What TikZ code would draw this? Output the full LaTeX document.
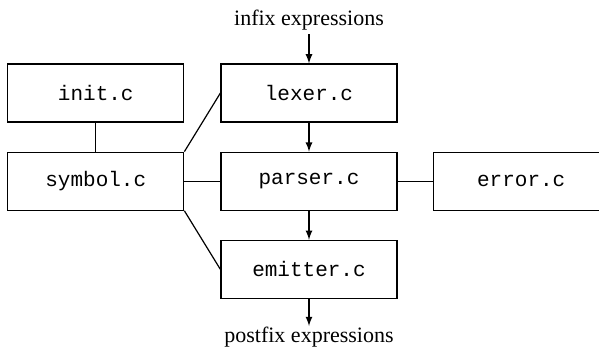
\documentclass[tikz,border=0pt]{standalone}
\usepackage{fontspec}
\setmainfont{Liberation Serif}
\setmonofont{Liberation Mono}
\usepackage{tikz}
\usetikzlibrary{positioning}
\usetikzlibrary{calc}
\tikzset{
  srcfile/.style={draw,line width=0.6pt,minimum width=88pt,minimum height=29pt,
    inner sep=0pt,font=\fontsize{10.5}{12}\selectfont\ttfamily},
  stream/.style={inner sep=2pt,font=\fontsize{11}{13}\selectfont},
  link/.style={line width=0.6pt},
}
\begin{document}
\begin{tikzpicture}
\useasboundingbox (0,0) rectangle (299.5pt,-174.5pt);
\clip (0,0) rectangle (299.5pt,-174.5pt);
% middle column
\node[srcfile] (lexer) at (154.5pt,-46.5pt) {lexer.c};
\node[srcfile,below=14.5pt of lexer] (parser) {parser.c};
\node[srcfile,below=14.5pt of parser] (emitter) {emitter.c};
% side boxes
\node[srcfile,left=18pt of lexer] (init) {init.c};
\node[srcfile,left=18pt of parser] (symbol) {symbol.c};
\node[srcfile,right=17.5pt of parser] (error) {error.c};
% input and output
\node[stream,above=14.5pt of lexer] (infix) {infix expressions};
\node[stream,inner sep=0.5pt,below=13.5pt of emitter] (postfix) {postfix expressions};
\draw[link,-latex] (infix) -- (lexer);
\draw[link,-latex] (lexer) -- (parser);
\draw[link,-latex] (parser) -- (emitter);
\draw[link,-latex] (emitter) -- (postfix);
% plain connections
\draw[link] (init) -- (symbol);
\draw[link] (symbol.north east) -- (lexer.west);
\draw[link] (symbol) -- (parser);
\draw[link] (symbol.south east) -- (emitter.west);
\draw[link] (parser) -- (error);
\end{tikzpicture}
\end{document}
